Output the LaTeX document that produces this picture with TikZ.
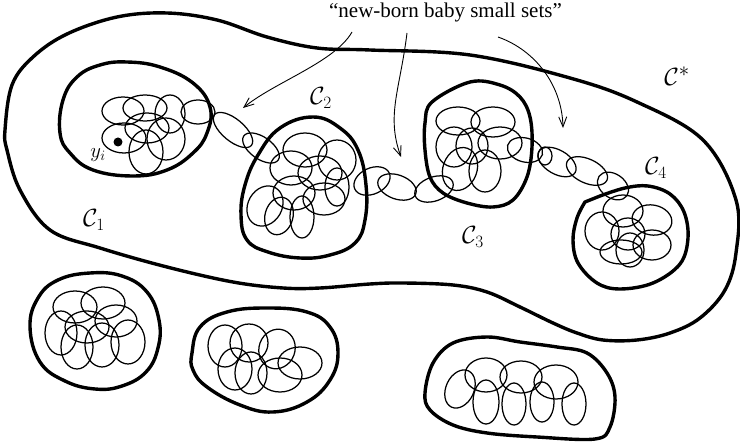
\documentclass[tikz,border=0pt]{standalone}
\usepackage{fontspec}
\setmainfont{Liberation Serif}
\usetikzlibrary{arrows.meta}
\newcommand\blobE[5]{\draw[blob,rotate around={#5:(#1,#2)}] (#1,#2) ellipse [x radius=#3,y radius=#4];}
\begin{document}
\begin{tikzpicture}[x=1pt,y=-1pt,
  ring/.style={line width=3.4pt,line join=round},
  blob/.style={line width=1.25pt},
  pointer/.style={line width=0.9pt,-{Straight Barb[length=10pt,width=8pt]}},
  lab/.style={inner sep=0pt}]
\useasboundingbox (0,0) rectangle (740,443);

% outer region C*
\draw[ring] plot[smooth cycle,tension=0.6] coordinates {
 (5,130) (12,85) (33,57) (67,34) (117,17) (167,13) (217,20) (267,37) (317,48) (370,50)
 (470,55) (570,78) (637,102) (703,140) (736,200) (736,253) (725,290) (700,318) (670,333)
 (637,340) (603,340) (577,333) (553,323) (520,307) (487,292) (453,285) (403,283) (370,284)
 (320,288) (283,288) (233,282) (167,267) (100,248) (50,230) (20,190) (7,150)};

% C1 ring
\draw[ring] plot[smooth cycle,tension=0.7] coordinates {
 (60,133) (63,100) (77,77) (100,65) (127,62) (160,67) (193,83) (210,107) (207,133)
 (193,153) (167,170) (133,176) (93,170) (70,153)};
% C2 ring
\draw[ring] plot[smooth cycle,tension=0.7] coordinates {
 (313,117) (340,128) (358,150) (366,185) (365,220) (355,243) (330,255) (300,258)
 (268,252) (247,240) (241,215) (245,185) (258,155) (280,128)};
% C3 ring
\draw[ring] plot[smooth cycle,tension=0.6] coordinates {
 (432,102) (470,82) (500,85) (520,97) (530,117) (532,147) (527,177) (513,200) (493,207)
 (467,203) (443,193) (430,177) (425,150) (425,123)};
% C4 ring
\draw[ring] plot[smooth,tension=0.6] coordinates {
 (585,202) (577,218) (573,240) (578,263) (597,283) (620,289) (653,283) (680,264) (688,238)
 (684,212) (670,194) (648,186) (625,188) (600,196)} -- cycle;
% bottom rings
\draw[ring] plot[smooth cycle,tension=0.7] coordinates {
 (30,327) (38,298) (58,280) (90,273) (122,276) (147,292) (159,320) (158,348) (146,372)
 (122,386) (95,389) (65,381) (40,362)};
\draw[ring] plot[smooth cycle,tension=0.7] coordinates {
 (192,353) (200,327) (227,312) (267,308) (307,312) (330,327) (338,353) (330,380)
 (307,402) (273,412) (240,405) (207,387) (193,370)};
\draw[ring] plot[smooth cycle,tension=0.6] coordinates {
 (425,393) (433,363) (453,343) (487,337) (520,342) (557,347) (587,353) (607,373)
 (615,397) (610,427) (595,439) (537,437) (487,433) (453,425) (430,410)};

% C1 small sets
\blobE{123}{111}{21}{14}{0}
\blobE{145}{108}{22}{13}{0}
\blobE{170}{114}{15}{19}{0}
\blobE{198}{112}{17}{12}{0}
\blobE{147}{128}{22}{15}{0}
\blobE{124}{138}{22}{15}{0}
\blobE{146}{152}{17}{22}{0}
\blobE{166}{139}{19}{21}{0}
\fill (118,142) circle [radius=4.5] coordinate (yi);
% chain C1 -> C2
\blobE{233}{130}{24}{11}{-40}
\blobE{261}{148}{21}{11}{-35}
% C2 small sets
\blobE{305}{150}{22}{17}{0}
\blobE{337}{160}{19}{20}{0}
\blobE{291}{168}{21}{17}{0}
\blobE{320}{173}{22}{17}{0}
\blobE{337}{187}{12}{19}{0}
\blobE{294}{193}{21}{17}{0}
\blobE{324}{199}{21}{16}{0}
\blobE{265}{206}{17}{21}{-30}
\blobE{279}{216}{14}{19}{-15}
\blobE{302}{217}{12}{21}{0}
% chain C2 -> C3
\blobE{372}{181}{19}{13}{25}
\blobE{397}{187}{20}{12}{-20}
\blobE{434}{189}{20}{12}{20}
% C3 small sets
\blobE{458}{121}{22}{14}{0}
\blobE{493}{122}{22}{15}{0}
\blobE{454}{147}{18}{20}{0}
\blobE{472}{146}{16}{18}{0}
\blobE{500}{143}{22}{16}{0}
\blobE{460}{169}{17}{22}{-20}
\blobE{485}{171}{16}{21}{0}
% chain C3 -> C4
\blobE{525}{150}{18}{12}{-15}
\blobE{545}{156}{7}{9}{0}
\blobE{557}{162}{21}{12}{-30}
\blobE{587}{171}{22}{12}{-25}
\blobE{613}{186}{17}{12}{-35}
% C4 small sets
\blobE{623}{211}{20}{16}{0}
\blobE{652}{220}{20}{15}{-10}
\blobE{602}{231}{17}{19}{0}
\blobE{628}{234}{17}{16}{0}
\blobE{652}{245}{19}{15}{0}
\blobE{621}{252}{21}{12}{0}
\blobE{630}{250}{14}{17}{0}
% B1
\blobE{75}{307}{22}{16}{0}
\blobE{103}{303}{22}{16}{0}
\blobE{61}{333}{16}{22}{0}
\blobE{87}{327}{22}{16}{0}
\blobE{116}{321}{21}{16}{0}
\blobE{77}{347}{16}{22}{0}
\blobE{102}{345}{17}{22}{0}
\blobE{128}{342}{17}{22}{0}
% B2
\blobE{225}{346}{17}{21}{0}
\blobE{249}{343}{19}{19}{0}
\blobE{277}{349}{18}{20}{-20}
\blobE{300}{363}{22}{16}{0}
\blobE{235}{369}{17}{21}{0}
\blobE{251}{373}{16}{21}{0}
\blobE{280}{375}{22}{17}{0}
% B3
\blobE{486}{375}{21}{17}{0}
\blobE{521}{377}{21}{16}{0}
\blobE{556}{382}{22}{17}{0}
\blobE{460}{389}{14}{20}{-25}
\blobE{486}{402}{13}{22}{0}
\blobE{514}{404}{12}{21}{0}
\blobE{542}{402}{12}{20}{0}
\blobE{574}{404}{12}{21}{0}

% labels
\node[anchor=base,lab] (title) at (445.5,18) {\fontsize{21}{21}\selectfont “new-born baby small sets”};
\node[lab] (Cstar) at (677,76) {\fontsize{32}{32}\selectfont $\mathcal{C}^*$};
\node[lab] (C1) at (94,220) {\fontsize{24}{24}\selectfont $\mathcal{C}_1$};
\node[lab] (C2) at (321,98) {\fontsize{24}{24}\selectfont $\mathcal{C}_2$};
\node[lab] (C3) at (473,237) {\fontsize{24}{24}\selectfont $\mathcal{C}_3$};
\node[lab] (C4) at (656,168) {\fontsize{24}{24}\selectfont $\mathcal{C}_4$};
\node[lab] (ylab) at (98,155) {\fontsize{22}{22}\selectfont $y_i$};

% pointers
\coordinate (s1) at (352,32); \coordinate (e1) at (243,108);
\coordinate (s2) at (407,33); \coordinate (e2) at (401,157);
\coordinate (s3) at (498,37); \coordinate (e3) at (563,128);
\draw[pointer] (s1) .. controls (335,62) and (275,82) .. (e1);
\draw[pointer] (s2) .. controls (400,90) and (386,115) .. (e2);
\draw[pointer] (s3) .. controls (535,50) and (562,85) .. (e3);
\end{tikzpicture}
\end{document}
